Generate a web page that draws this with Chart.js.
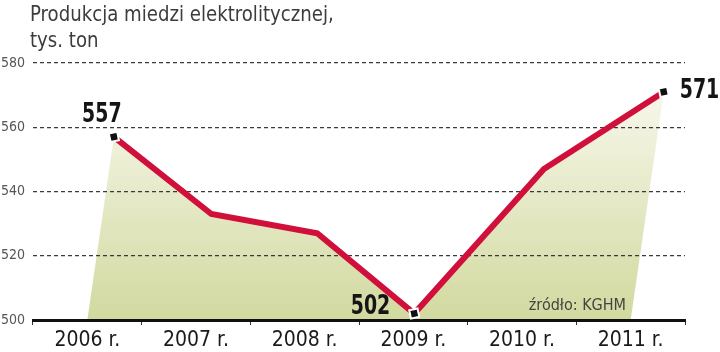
<!DOCTYPE html>
<html lang="pl">
<head>
<meta charset="utf-8">
<title>Produkcja miedzi elektrolitycznej</title>
<script src="https://cdn.jsdelivr.net/npm/chart.js"></script>
<style>
  body { margin: 0; background: #fff; }
  #wrap { width: 720px; height: 352px; position: relative; }
</style>
</head>
<body>
<div id="wrap"><canvas id="chart"></canvas></div>
<script>
const years = ['2006 r.', '2007 r.', '2008 r.', '2009 r.', '2010 r.', '2011 r.'];
const production = [557, 533, 527, 502, 547, 571];
const yTicks = [500, 520, 540, 560, 580];
const titleLines = ['Produkcja miedzi elektrolitycznej,', 'tys. ton'];
const sourceText = 'źródło: KGHM';

const SKEW = 0.145;           // the drawing leans to the right
const condensed = "'DejaVu Sans Condensed', 'Liberation Sans Narrow', sans-serif";

// which points get a marker and a value label, with the label placement
const labelled = {
  0: { dx: -12, dy: -22, align: 'center' },
  3: { dx: -24, dy: -7, align: 'right' },
  5: { dx: 16, dy: -1, align: 'left' }
};

// text squeezed sideways, like the narrow newspaper face
function narrowText(ctx, text, x, y, sx) {
  ctx.save();
  ctx.translate(x, y);
  ctx.scale(sx, 1);
  ctx.fillText(text, 0, 0);
  ctx.restore();
}

const leanPlugin = {
  id: 'lean',
  afterDatasetsUpdate(chart) {
    const bottom = chart.chartArea.bottom;
    const meta = chart.getDatasetMeta(0);
    meta.data.forEach(pt => {
      pt.baseX = pt.x;
      pt.x = pt.x + SKEW * (bottom - pt.y);
    });
  },
  beforeDraw(chart) {
    // area under the line, painted before the grid
    const { ctx, chartArea } = chart;
    const pts = chart.getDatasetMeta(0).data;
    if (!pts.length) return;
    const g = ctx.createLinearGradient(0, chartArea.top, 0, chartArea.bottom);
    g.addColorStop(0, '#fcfbf4');
    g.addColorStop(1, '#d2d99f');
    ctx.save();
    ctx.beginPath();
    ctx.moveTo(pts[0].baseX, chartArea.bottom);
    pts.forEach(p => ctx.lineTo(p.x, p.y));
    ctx.lineTo(pts[pts.length - 1].baseX, chartArea.bottom);
    ctx.closePath();
    ctx.fillStyle = g;
    ctx.fill();
    ctx.restore();
  },
  afterDatasetsDraw(chart) {
    const { ctx, chartArea } = chart;
    const pts = chart.getDatasetMeta(0).data;
    ctx.save();
    ctx.fillStyle = '#151515';
    ctx.font = 'bold 27px ' + condensed;
    ctx.textBaseline = 'middle';
    Object.keys(labelled).forEach(i => {
      const o = labelled[i];
      const p = pts[i];
      ctx.textAlign = o.align;
      narrowText(ctx, String(production[i]), p.x + o.dx, p.y + o.dy, 0.78);
    });
    ctx.font = '16px ' + condensed;
    ctx.fillStyle = '#444';
    ctx.textAlign = 'right';
    ctx.textBaseline = 'alphabetic';
    ctx.fillText(sourceText, chartArea.right - 59, chartArea.bottom - 10);
    ctx.restore();
  },
  afterDraw(chart) {
    const ctx = chart.ctx;
    ctx.save();
    ctx.font = '21px ' + condensed;
    ctx.fillStyle = '#3c3c3c';
    ctx.textAlign = 'left';
    ctx.textBaseline = 'alphabetic';
    narrowText(ctx, titleLines[0], 30, 21, 0.96);
    narrowText(ctx, titleLines[1], 30, 47, 0.96);
    ctx.restore();
  }
};

new Chart(document.getElementById('chart'), {
  type: 'line',
  data: {
    labels: years,
    datasets: [{
      data: production,
      borderColor: '#d0103a',
      borderWidth: 6,
      fill: false,
      tension: 0,
      clip: false,
      pointStyle: 'rect',
      pointRotation: -12,
      pointRadius: production.map((v, i) => labelled[i] ? 6 : 0),
      pointBackgroundColor: '#111',
      pointBorderColor: '#fff',
      pointBorderWidth: 2
    }]
  },
  options: {
    responsive: true,
    maintainAspectRatio: false,
    animation: false,
    layout: { padding: { top: 63, right: 35, left: 0, bottom: 0 } },
    plugins: {
      legend: { display: false },
      tooltip: { enabled: false },
      title: { display: false }
    },
    scales: {
      x: {
        offset: true,
        grid: {
          offset: true,
          drawOnChartArea: false,
          drawTicks: true,
          tickLength: 5,
          color: '#333',
          lineWidth: 1
        },
        border: { display: true, color: '#111', width: 3 },
        ticks: {
          color: '#1a1a1a',
          font: { family: condensed, size: 21 },
          padding: 3,
          maxRotation: 0
        },
        afterFit(s) { s.height = 32; }
      },
      y: {
        min: yTicks[0],
        max: yTicks[yTicks.length - 1],
        afterBuildTicks(s) { s.ticks = yTicks.map(v => ({ value: v })); },
        grid: {
          color: '#3a3a3a',
          lineWidth: 1.3,
          drawTicks: false
        },
        border: { display: false, dash: [4, 3] },
        ticks: {
          color: '#555',
          font: { family: condensed, size: 14 },
          padding: 8
        },
        afterFit(s) { s.width = 33; }
      }
    }
  },
  plugins: [leanPlugin]
});
</script>
</body>
</html>
